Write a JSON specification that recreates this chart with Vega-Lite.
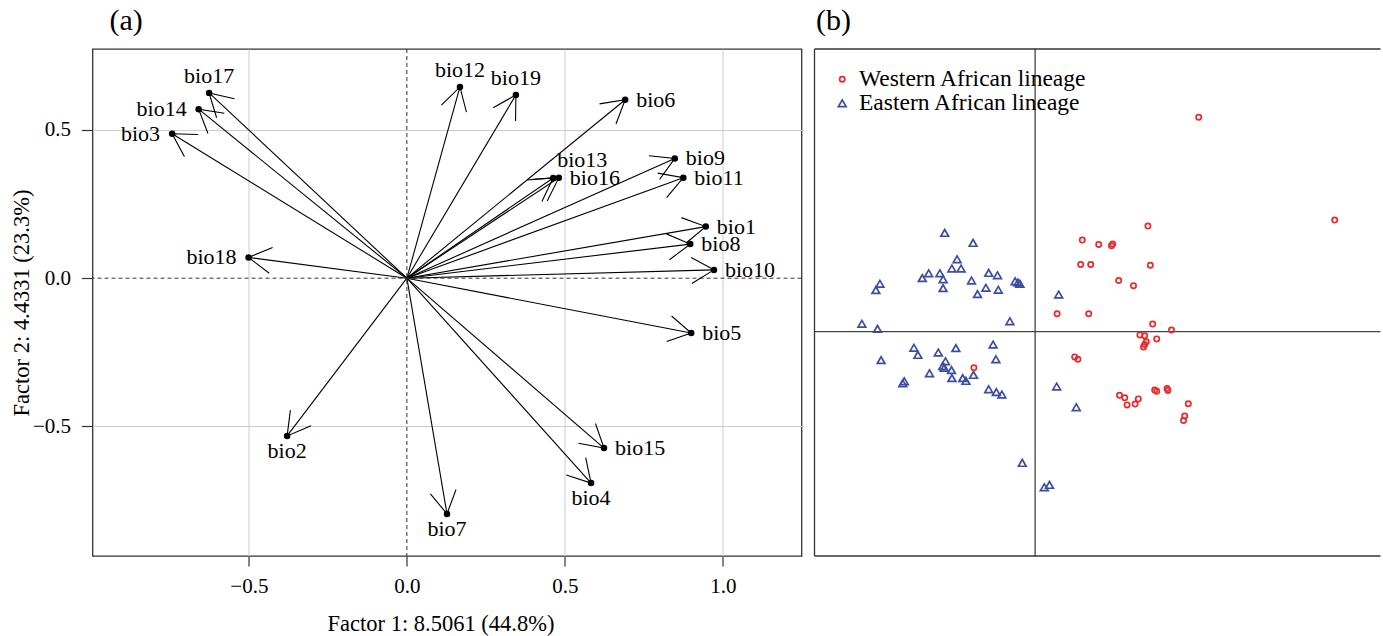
{
  "$schema": "https://vega.github.io/schema/vega-lite/v6.json",
  "background": "white",
  "padding": {"left": 9.5, "top": 5, "right": 0, "bottom": 0},
  "spacing": 10,
  "config": {
    "font": "Liberation Serif",
    "view": {"stroke": null},
    "axis": {"labelFont": "Liberation Serif", "titleFont": "Liberation Serif", "labelColor": "black", "titleColor": "black", "titleFontWeight": "normal", "labelFontSize": 21, "titleFontSize": 22.5, "domain": false, "tickColor": "#333333", "tickWidth": 1.2, "gridColor": "#cccccc", "gridWidth": 1, "labelFlush": false, "labelOverlap": false},
    "title": {"font": "Liberation Serif", "fontSize": 30, "fontWeight": "normal", "color": "black", "anchor": "start", "frame": "group", "baseline": "alphabetic", "offset": 12.3}
  },
  "datasets": {
    "loadings": [
      {"name": "bio1", "x": 0.946, "y": 0.174},
      {"name": "bio2", "x": -0.379, "y": -0.532},
      {"name": "bio3", "x": -0.743, "y": 0.487},
      {"name": "bio4", "x": 0.583, "y": -0.691},
      {"name": "bio5", "x": 0.900, "y": -0.185},
      {"name": "bio6", "x": 0.691, "y": 0.602},
      {"name": "bio7", "x": 0.127, "y": -0.795},
      {"name": "bio8", "x": 0.897, "y": 0.115},
      {"name": "bio9", "x": 0.848, "y": 0.404},
      {"name": "bio10", "x": 0.972, "y": 0.028},
      {"name": "bio11", "x": 0.875, "y": 0.339},
      {"name": "bio12", "x": 0.168, "y": 0.645},
      {"name": "bio13", "x": 0.463, "y": 0.338},
      {"name": "bio14", "x": -0.659, "y": 0.570},
      {"name": "bio15", "x": 0.624, "y": -0.573},
      {"name": "bio16", "x": 0.481, "y": 0.339},
      {"name": "bio17", "x": -0.626, "y": 0.625},
      {"name": "bio18", "x": -0.501, "y": 0.070},
      {"name": "bio19", "x": 0.345, "y": 0.618}
    ],
    "scores": [
      {"lineage": "Eastern African lineage", "pc1": -2.26, "pc2": 2.47},
      {"lineage": "Eastern African lineage", "pc1": -1.55, "pc2": 2.22},
      {"lineage": "Eastern African lineage", "pc1": -1.95, "pc2": 1.81},
      {"lineage": "Eastern African lineage", "pc1": -2.08, "pc2": 1.58},
      {"lineage": "Eastern African lineage", "pc1": -1.85, "pc2": 1.58},
      {"lineage": "Eastern African lineage", "pc1": -2.66, "pc2": 1.46},
      {"lineage": "Eastern African lineage", "pc1": -2.82, "pc2": 1.34},
      {"lineage": "Eastern African lineage", "pc1": -2.38, "pc2": 1.46},
      {"lineage": "Eastern African lineage", "pc1": -2.30, "pc2": 1.31},
      {"lineage": "Eastern African lineage", "pc1": -2.30, "pc2": 1.09},
      {"lineage": "Eastern African lineage", "pc1": -1.59, "pc2": 1.28},
      {"lineage": "Eastern African lineage", "pc1": -1.16, "pc2": 1.47},
      {"lineage": "Eastern African lineage", "pc1": -0.94, "pc2": 1.41},
      {"lineage": "Eastern African lineage", "pc1": -1.23, "pc2": 1.10},
      {"lineage": "Eastern African lineage", "pc1": -0.92, "pc2": 1.05},
      {"lineage": "Eastern African lineage", "pc1": -1.44, "pc2": 0.94},
      {"lineage": "Eastern African lineage", "pc1": -0.50, "pc2": 1.26},
      {"lineage": "Eastern African lineage", "pc1": -0.43, "pc2": 1.23},
      {"lineage": "Eastern African lineage", "pc1": -0.38, "pc2": 1.20},
      {"lineage": "Eastern African lineage", "pc1": -3.88, "pc2": 1.20},
      {"lineage": "Eastern African lineage", "pc1": -3.98, "pc2": 1.04},
      {"lineage": "Eastern African lineage", "pc1": 0.59, "pc2": 0.93},
      {"lineage": "Eastern African lineage", "pc1": -0.63, "pc2": 0.26},
      {"lineage": "Eastern African lineage", "pc1": -4.33, "pc2": 0.20},
      {"lineage": "Eastern African lineage", "pc1": -3.94, "pc2": 0.07},
      {"lineage": "Eastern African lineage", "pc1": -3.03, "pc2": -0.40},
      {"lineage": "Eastern African lineage", "pc1": -2.93, "pc2": -0.58},
      {"lineage": "Eastern African lineage", "pc1": -2.42, "pc2": -0.52},
      {"lineage": "Eastern African lineage", "pc1": -1.98, "pc2": -0.41},
      {"lineage": "Eastern African lineage", "pc1": -1.05, "pc2": -0.32},
      {"lineage": "Eastern African lineage", "pc1": -3.85, "pc2": -0.71},
      {"lineage": "Eastern African lineage", "pc1": -2.24, "pc2": -0.74},
      {"lineage": "Eastern African lineage", "pc1": -2.31, "pc2": -0.86},
      {"lineage": "Eastern African lineage", "pc1": -2.27, "pc2": -0.90},
      {"lineage": "Eastern African lineage", "pc1": -2.09, "pc2": -0.96},
      {"lineage": "Eastern African lineage", "pc1": -0.98, "pc2": -0.69},
      {"lineage": "Eastern African lineage", "pc1": -2.64, "pc2": -1.04},
      {"lineage": "Eastern African lineage", "pc1": -2.08, "pc2": -1.16},
      {"lineage": "Eastern African lineage", "pc1": -1.81, "pc2": -1.16},
      {"lineage": "Eastern African lineage", "pc1": -1.73, "pc2": -1.23},
      {"lineage": "Eastern African lineage", "pc1": -1.54, "pc2": -1.08},
      {"lineage": "Eastern African lineage", "pc1": -3.27, "pc2": -1.24},
      {"lineage": "Eastern African lineage", "pc1": -3.31, "pc2": -1.29},
      {"lineage": "Eastern African lineage", "pc1": -1.16, "pc2": -1.44},
      {"lineage": "Eastern African lineage", "pc1": -0.97, "pc2": -1.51},
      {"lineage": "Eastern African lineage", "pc1": -0.83, "pc2": -1.57},
      {"lineage": "Eastern African lineage", "pc1": 0.54, "pc2": -1.37},
      {"lineage": "Eastern African lineage", "pc1": 1.03, "pc2": -1.89},
      {"lineage": "Eastern African lineage", "pc1": -0.32, "pc2": -3.28},
      {"lineage": "Eastern African lineage", "pc1": 0.23, "pc2": -3.89},
      {"lineage": "Eastern African lineage", "pc1": 0.36, "pc2": -3.83},
      {"lineage": "Western African lineage", "pc1": 4.09, "pc2": 5.36},
      {"lineage": "Western African lineage", "pc1": 7.49, "pc2": 2.79},
      {"lineage": "Western African lineage", "pc1": 2.82, "pc2": 2.64},
      {"lineage": "Western African lineage", "pc1": 1.18, "pc2": 2.29},
      {"lineage": "Western African lineage", "pc1": 1.59, "pc2": 2.18},
      {"lineage": "Western African lineage", "pc1": 1.91, "pc2": 2.15},
      {"lineage": "Western African lineage", "pc1": 1.94, "pc2": 2.19},
      {"lineage": "Western African lineage", "pc1": 1.14, "pc2": 1.68},
      {"lineage": "Western African lineage", "pc1": 1.39, "pc2": 1.68},
      {"lineage": "Western African lineage", "pc1": 2.88, "pc2": 1.66},
      {"lineage": "Western African lineage", "pc1": 2.09, "pc2": 1.28},
      {"lineage": "Western African lineage", "pc1": 2.46, "pc2": 1.15},
      {"lineage": "Western African lineage", "pc1": 0.55, "pc2": 0.45},
      {"lineage": "Western African lineage", "pc1": 1.34, "pc2": 0.45},
      {"lineage": "Western African lineage", "pc1": 2.94, "pc2": 0.19},
      {"lineage": "Western African lineage", "pc1": 3.41, "pc2": 0.04},
      {"lineage": "Western African lineage", "pc1": 2.62, "pc2": -0.08},
      {"lineage": "Western African lineage", "pc1": 2.74, "pc2": -0.10},
      {"lineage": "Western African lineage", "pc1": 3.04, "pc2": -0.18},
      {"lineage": "Western African lineage", "pc1": 2.78, "pc2": -0.25},
      {"lineage": "Western African lineage", "pc1": 2.74, "pc2": -0.32},
      {"lineage": "Western African lineage", "pc1": 2.71, "pc2": -0.38},
      {"lineage": "Western African lineage", "pc1": 0.99, "pc2": -0.63},
      {"lineage": "Western African lineage", "pc1": 1.07, "pc2": -0.69},
      {"lineage": "Western African lineage", "pc1": 2.11, "pc2": -1.59},
      {"lineage": "Western African lineage", "pc1": 2.24, "pc2": -1.65},
      {"lineage": "Western African lineage", "pc1": 2.58, "pc2": -1.68},
      {"lineage": "Western African lineage", "pc1": 2.30, "pc2": -1.83},
      {"lineage": "Western African lineage", "pc1": 2.50, "pc2": -1.81},
      {"lineage": "Western African lineage", "pc1": 2.99, "pc2": -1.46},
      {"lineage": "Western African lineage", "pc1": 3.04, "pc2": -1.49},
      {"lineage": "Western African lineage", "pc1": 3.30, "pc2": -1.42},
      {"lineage": "Western African lineage", "pc1": 3.32, "pc2": -1.47},
      {"lineage": "Western African lineage", "pc1": 3.83, "pc2": -1.80},
      {"lineage": "Western African lineage", "pc1": 3.74, "pc2": -2.11},
      {"lineage": "Western African lineage", "pc1": 3.71, "pc2": -2.22},
      {"lineage": "Western African lineage", "pc1": -1.53, "pc2": -0.90}
    ]
  },
  "hconcat": [
    {
      "width": 709,
      "height": 507,
      "view": {"stroke": "#333333", "strokeWidth": 1.3},
      "title": {"text": "(a)", "dx": 17},
      "data": {"name": "loadings"},
      "layer": [
        {
          "mark": {"type": "rule", "color": "black", "strokeWidth": 1.1},
          "encoding": {
            "x": {"field": "x", "type": "quantitative", "scale": {"domain": [-0.995, 1.249], "nice": false, "zero": false},
              "axis": {"title": "Factor 1: 8.5061 (44.8%)", "values": [-0.5, 0, 0.5, 1], "format": ".1f", "grid": true,
                "gridOpacity": {"condition": {"test": "datum.value === 0", "value": 0}, "value": 1},
                "tickSize": 10, "labelPadding": 9, "titleBaseline": "alphabetic", "titleY": 74, "titleX": 348, "titleAlign": "center"}},
            "y": {"field": "y", "type": "quantitative", "scale": {"domain": [-0.937, 0.773], "nice": false, "zero": false},
              "axis": {"title": "Factor 2: 4.4331 (23.3%)", "values": [-0.5, 0, 0.5], "format": ".1f", "grid": true,
                "gridOpacity": {"condition": {"test": "datum.value === 0", "value": 0}, "value": 1},
                "tickSize": 11, "labelPadding": 11, "titleBaseline": "alphabetic", "titleX": -64, "titleY": 253.5, "titleAngle": 270, "titleAlign": "center"}},
            "x2": {"datum": 0},
            "y2": {"datum": 0}
          }
        },
        {
          "data": {"values": [{}]},
          "mark": {"type": "rule", "color": "#333333", "strokeWidth": 1, "strokeDash": [4, 3]},
          "encoding": {"x": {"datum": 0, "type": "quantitative"}}
        },
        {
          "data": {"values": [{}]},
          "mark": {"type": "rule", "color": "#333333", "strokeWidth": 1, "strokeDash": [4, 3]},
          "encoding": {"y": {"datum": 0, "type": "quantitative"}}
        },
        {
          "transform": [{"calculate": "atan2(-datum.y * 296.5, datum.x * 316) * 180 / PI", "as": "angle"}],
          "mark": {"type": "point", "shape": "M-0.866,-0.5L0,0L-0.866,0.5", "filled": false, "stroke": "black", "strokeWidth": 1.1, "size": 2704, "opacity": 1},
          "encoding": {
            "x": {"field": "x", "type": "quantitative"},
            "y": {"field": "y", "type": "quantitative"},
            "angle": {"field": "angle", "type": "quantitative", "scale": null}
          }
        },
        {
          "mark": {"type": "point", "shape": "circle", "filled": true, "color": "black", "size": 42, "opacity": 1},
          "encoding": {
            "x": {"field": "x", "type": "quantitative"},
            "y": {"field": "y", "type": "quantitative"}
          }
        },
        {
          "transform": [{"filter": {"field": "name", "oneOf": ["bio6", "bio16", "bio9", "bio11", "bio1", "bio8", "bio10", "bio5", "bio15"]}}],
          "mark": {"type": "text", "font": "Liberation Serif", "fontSize": 22, "color": "black", "align": "left", "baseline": "middle", "dx": 11},
          "encoding": {
            "x": {"field": "x", "type": "quantitative"},
            "y": {"field": "y", "type": "quantitative"},
            "text": {"field": "name"}
          }
        },
        {
          "transform": [{"filter": {"field": "name", "oneOf": ["bio14", "bio3", "bio18"]}}],
          "mark": {"type": "text", "font": "Liberation Serif", "fontSize": 22, "color": "black", "align": "right", "baseline": "middle", "dx": -12},
          "encoding": {
            "x": {"field": "x", "type": "quantitative"},
            "y": {"field": "y", "type": "quantitative"},
            "text": {"field": "name"}
          }
        },
        {
          "transform": [{"filter": {"field": "name", "oneOf": ["bio17", "bio12", "bio19"]}}],
          "mark": {"type": "text", "font": "Liberation Serif", "fontSize": 22, "color": "black", "align": "center", "baseline": "alphabetic", "dy": -10},
          "encoding": {
            "x": {"field": "x", "type": "quantitative"},
            "y": {"field": "y", "type": "quantitative"},
            "text": {"field": "name"}
          }
        },
        {
          "transform": [{"filter": {"field": "name", "oneOf": ["bio13"]}}],
          "mark": {"type": "text", "font": "Liberation Serif", "fontSize": 22, "color": "black", "align": "left", "baseline": "alphabetic", "dx": 4, "dy": -11},
          "encoding": {
            "x": {"field": "x", "type": "quantitative"},
            "y": {"field": "y", "type": "quantitative"},
            "text": {"field": "name"}
          }
        },
        {
          "transform": [{"filter": {"field": "name", "oneOf": ["bio4", "bio7", "bio2"]}}],
          "mark": {"type": "text", "font": "Liberation Serif", "fontSize": 22, "color": "black", "align": "center", "baseline": "alphabetic", "dy": 22},
          "encoding": {
            "x": {"field": "x", "type": "quantitative"},
            "y": {"field": "y", "type": "quantitative"},
            "text": {"field": "name"}
          }
        }
      ]
    },
    {
      "width": 566,
      "height": 507,
      "title": {"text": "(b)", "dx": 1.5},
      "data": {"name": "scores"},
      "layer": [
        {
          "data": {"values": [{}]},
          "mark": {"type": "rule", "color": "#333333", "strokeWidth": 1.3},
          "encoding": {"x": {"datum": -5.515, "type": "quantitative", "scale": {"domain": [-5.515, 8.635], "nice": false, "zero": false}, "axis": null}}
        },
        {
          "data": {"values": [{}]},
          "mark": {"type": "rule", "color": "#333333", "strokeWidth": 1.3},
          "encoding": {"y": {"datum": 7.0675, "type": "quantitative", "scale": {"domain": [-5.6075, 7.0675], "nice": false, "zero": false}, "axis": null}}
        },
        {
          "data": {"values": [{}]},
          "mark": {"type": "rule", "color": "#333333", "strokeWidth": 1.3},
          "encoding": {"y": {"datum": -5.6075, "type": "quantitative", "scale": {"domain": [-5.6075, 7.0675], "nice": false, "zero": false}, "axis": null}}
        },
        {
          "data": {"values": [{}]},
          "mark": {"type": "rule", "color": "#222222", "strokeWidth": 1.1},
          "encoding": {"x": {"datum": 0, "type": "quantitative", "scale": {"domain": [-5.515, 8.635], "nice": false, "zero": false}, "axis": null}}
        },
        {
          "data": {"values": [{}]},
          "mark": {"type": "rule", "color": "#444444", "strokeWidth": 1.2},
          "encoding": {"y": {"datum": 0, "type": "quantitative", "scale": {"domain": [-5.6075, 7.0675], "nice": false, "zero": false}, "axis": null}}
        },
        {
          "mark": {"type": "point", "filled": false, "strokeWidth": 1.7, "opacity": 1},
          "encoding": {
            "x": {"field": "pc1", "type": "quantitative", "scale": {"domain": [-5.515, 8.635], "nice": false, "zero": false}, "axis": null},
            "y": {"field": "pc2", "type": "quantitative", "scale": {"domain": [-5.6075, 7.0675], "nice": false, "zero": false}, "axis": null},
            "color": {"field": "lineage", "type": "nominal",
              "scale": {"domain": ["Western African lineage", "Eastern African lineage"], "range": ["#ea2a2a", "#3b4ea2"]},
              "legend": {"title": null, "orient": "none", "legendX": 738, "legendY": 18.5, "labelFontSize": 23.5, "labelFont": "Liberation Serif", "labelColor": "black", "symbolStrokeWidth": 1.7, "padding": 0, "rowPadding": -1.8, "labelOffset": 5, "labelLimit": 400}},
            "shape": {"field": "lineage", "type": "nominal",
              "scale": {"domain": ["Western African lineage", "Eastern African lineage"], "range": ["circle", "triangle-up"]},
              "legend": {"title": null, "orient": "none", "legendX": 738, "legendY": 18.5, "labelFontSize": 23.5, "labelFont": "Liberation Serif", "labelColor": "black", "symbolStrokeWidth": 1.7, "padding": 0, "rowPadding": -1.8, "labelOffset": 5, "labelLimit": 400}},
            "size": {"field": "lineage", "type": "nominal",
              "scale": {"domain": ["Western African lineage", "Eastern African lineage"], "range": [28, 60]},
              "legend": {"title": null, "orient": "none", "legendX": 738, "legendY": 18.5, "labelFontSize": 23.5, "labelFont": "Liberation Serif", "labelColor": "black", "symbolStrokeWidth": 1.7, "padding": 0, "rowPadding": -1.8, "labelOffset": 5, "labelLimit": 400}}
          }
        }
      ]
    }
  ]
}
